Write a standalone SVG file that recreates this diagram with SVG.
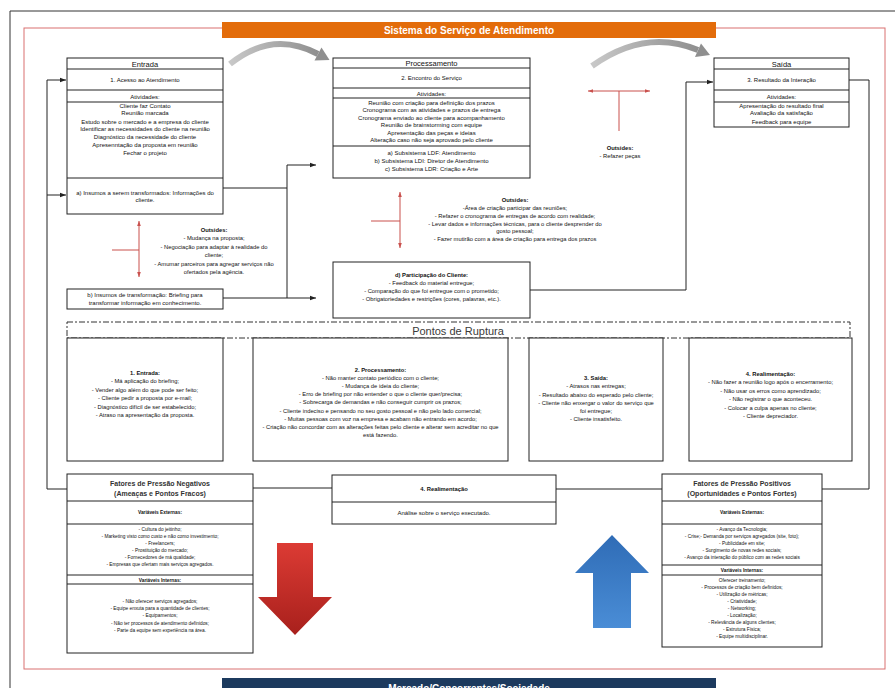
<svg xmlns="http://www.w3.org/2000/svg" width="895" height="688" viewBox="0 0 895 688">
<defs>
<style>
text{font-family:"Liberation Sans",Arial,sans-serif;fill:#111;text-anchor:middle}
.box{fill:#fff;stroke:#222;stroke-width:1}
.div{stroke:#222;stroke-width:1}
.h{font-size:7.5px}
.s{font-size:6px}
.xs{font-size:5.8px}
.xxs{font-size:4.8px}
.b{font-weight:bold}
.con{fill:none;stroke:#222;stroke-width:1}
.red{fill:none;stroke:#c9504d;stroke-width:1}
.dash{fill:none;stroke:#333;stroke-width:1;stroke-dasharray:6 2 2 2}
</style>
<marker id="ah" viewBox="0 0 6 6" refX="6" refY="3" markerWidth="6" markerHeight="6" orient="auto" markerUnits="userSpaceOnUse"><path d="M0,0.8 L6,3 L0,5.2z" fill="#222"/></marker>
<marker id="rh" viewBox="0 0 6 6" refX="6" refY="3" markerWidth="5" markerHeight="5" orient="auto-start-reverse" markerUnits="userSpaceOnUse"><path d="M0,0.8 L6,3 L0,5.2z" fill="#c9504d"/></marker>
<linearGradient id="gg" x1="0" y1="0" x2="1" y2="0"><stop offset="0" stop-color="#c8c8c8"/><stop offset="1" stop-color="#8f8f8f"/></linearGradient>
<linearGradient id="rg" x1="0" y1="0" x2="0" y2="1"><stop offset="0" stop-color="#dc3b34"/><stop offset="1" stop-color="#a8201c"/></linearGradient>
<linearGradient id="bg" x1="0" y1="0" x2="0" y2="1"><stop offset="0" stop-color="#2f6cb6"/><stop offset="1" stop-color="#4a8dd6"/></linearGradient>
</defs>
<rect width="895" height="688" fill="#fff"/>
<path d="M10,688 V11 H895" fill="none" stroke="#333" stroke-width="1"/>
<rect x="24" y="28" width="861" height="641" fill="none" stroke="#d97070" stroke-width="1"/>
<g id="title"><rect x="222" y="22" width="494" height="16" fill="#e36c0a"/><text x="469" y="34" style="font-size:10px;font-weight:bold;fill:#fff">Sistema do Serviço de Atendimento</text></g>
<g id="gray-arrows">
<path d="M230,64 Q272,30 318,54" fill="none" stroke="url(#gg)" stroke-width="6"/>
<polygon points="314.5,60.5 321.5,47.5 329.5,60" fill="#8f8f8f"/>
<path d="M592,66 Q645,28 698,50" fill="none" stroke="url(#gg)" stroke-width="6"/>
<polygon points="695,57 701,43.5 710,55" fill="#8f8f8f"/>
</g>
<g id="connectors">
<path class="con" d="M67,489 H47 V80 H66" marker-end="url(#ah)"/>
<path class="con" d="M47,195 H66" marker-end="url(#ah)"/>
<path class="con" d="M223,188 H287"/>
<path class="con" d="M287,298 V165 H316" marker-end="url(#ah)"/>
<path class="con" d="M223,298 H316" marker-end="url(#ah)"/>
<path class="con" d="M530,290 H686 V82 H713" marker-end="url(#ah)"/>
<path class="con" d="M849,80 H869 V489 H556"/>
<path class="con" d="M253,488 H332"/>
</g>
<g id="outsides-left">
<path class="red" d="M139,221 V277" marker-start="url(#rh)" marker-end="url(#rh)"/>
<path class="red" d="M112,250 H139"/>
<text class="xs b" x="214" y="232">Outsides:</text>
<text class="xs" x="214" y="240">- Mudança na proposta;</text>
<text class="xs" x="214" y="249">- Negociação para adaptar à realidade do</text>
<text class="xs" x="214" y="257">cliente;</text>
<text class="xs" x="214" y="266">- Amumar parceiros para agregar serviços não</text>
<text class="xs" x="214" y="274">ofertados pela agência.</text>
</g>
<g id="outsides-center">
<path class="red" d="M400,192 V248" marker-start="url(#rh)" marker-end="url(#rh)"/>
<path class="red" d="M371,221 H400"/>
<text class="xs b" x="515" y="202">Outsides:</text>
<text class="xs" x="515" y="210">-Área de criação participar das reuniões;</text>
<text class="xs" x="515" y="218">- Refazer o cronograma de entregas de acordo com realidade;</text>
<text class="xs" x="515" y="226">- Levar dados e informações técnicas, para o cliente desprender do</text>
<text class="xs" x="515" y="233">gosto pessoal;</text>
<text class="xs" x="515" y="241">- Fazer mutirão com a área de criação para entrega dos prazos</text>
</g>
<g id="outsides-right">
<path class="red" d="M588,91 H650" marker-start="url(#rh)" marker-end="url(#rh)"/>
<path class="red" d="M619,91 V131"/>
<text class="xs b" x="620" y="150">Outsides:</text>
<text class="xs" x="620" y="158">- Refazer peças</text>
</g>
<g id="entrada">
<rect class="box" x="67" y="58" width="156" height="156"/>
<path class="div" d="M67,69 H223 M67,90 H223 M67,102 H223 M67,178 H223"/>
<text class="h" x="145" y="66.5">Entrada</text>
<text class="s" x="145" y="82">1. Acesso ao Atendimento</text>
<text class="s" x="145" y="98.5">Atividades:</text>
<text class="s" x="145" y="108">Cliente faz Contato</text>
<text class="s" x="145" y="115">Reunião marcada</text>
<text class="s" x="145" y="123.5">Estudo sobre o mercado e a empresa do cliente</text>
<text class="s" x="145" y="131">Identificar as necessidades do cliente na reunião</text>
<text class="s" x="145" y="139">Diagnóstico da necessidade do cliente</text>
<text class="s" x="145" y="147">Apresenntação da proposta em reunião</text>
<text class="s" x="145" y="155">Fechar o projeto</text>
<text class="s" x="145" y="195">a) Insumos a serem transformados: Informações do</text>
<text class="s" x="145" y="202">cliente.</text>
</g>
<g id="insumos-b">
<rect class="box" x="67" y="289" width="156" height="20"/>
<text class="s" x="145" y="297">b) Insumos de transformação: Briefing para</text>
<text class="s" x="145" y="305">transformar informação em conhecimento.</text>
</g>
<g id="processamento">
<rect class="box" x="333" y="58" width="197" height="120"/>
<path class="div" d="M333,68 H530 M333,88 H530 M333,98 H530 M333,146 H530"/>
<text class="h" x="431.5" y="66">Processamento</text>
<text class="s" x="431.5" y="80">2. Encontro do Serviço</text>
<text class="s" x="431.5" y="95.5">Atividades:</text>
<text class="s" x="431.5" y="105">Reunião com criação para definição dos prazos</text>
<text class="s" x="431.5" y="112">Cronograma com as atividades e prazos de entrega</text>
<text class="s" x="431.5" y="119.5">Cronograma enviado ao cliente para acompanhamento</text>
<text class="s" x="431.5" y="127">Reunião de brainstorming com equipe</text>
<text class="s" x="431.5" y="134.5">Apresentação das peças e ideias</text>
<text class="s" x="431.5" y="142">Alteração caso não seja aprovado pelo cliente</text>
<text class="s" x="431.5" y="155">a) Subsistema LDF: Atendimento</text>
<text class="s" x="431.5" y="163">b) Subsistema LDI: Diretor de Atendimento</text>
<text class="s" x="431.5" y="171">c) Subsistema LDR: Criação e Arte</text>
</g>
<g id="participacao">
<rect class="box" x="333" y="262" width="197" height="56"/>
<text class="xs b" x="431.5" y="277">d) Participação do Cliente:</text>
<text class="xs" x="431.5" y="285">- Feedback do material entregue;</text>
<text class="xs" x="431.5" y="293">- Comparação do que foi entregue com o prometido;</text>
<text class="xs" x="431.5" y="301">- Obrigatoriedades e restrições (cores, palavras, etc.).</text>
</g>
<g id="saida">
<rect class="box" x="714" y="58" width="135" height="69"/>
<path class="div" d="M714,69 H849 M714,90 H849 M714,102 H849"/>
<text class="h" x="781.5" y="66.5">Saída</text>
<text class="s" x="781.5" y="82">3. Resultado da Interação</text>
<text class="s" x="781.5" y="98.5">Atividades:</text>
<text class="s" x="781.5" y="107.5">Apresentação do resultado final</text>
<text class="s" x="781.5" y="115">Avaliação da satisfação</text>
<text class="s" x="781.5" y="124">Feedback para equipe</text>
</g>
<g id="pontos-ruptura">
<rect class="dash" x="67" y="322" width="783" height="16"/>
<text x="458" y="335" style="font-size:11px;fill:#3a3a3a">Pontos de Ruptura</text>
</g>
<g id="ruptura-entrada">
<rect class="box" x="67" y="338" width="156" height="123"/>
<text class="xs b" x="145" y="375">1. Entrada:</text>
<text class="xs" x="145" y="383">- Má aplicação do briefing;</text>
<text class="xs" x="145" y="392">- Vender algo além do que pode ser feito;</text>
<text class="xs" x="145" y="400">- Cliente pedir a proposta por e-mail;</text>
<text class="xs" x="145" y="409">- Diagnóstico difícil de ser estabelecido;</text>
<text class="xs" x="145" y="417">- Atraso na apresentação da proposta.</text>
</g>
<g id="ruptura-processamento">
<rect class="box" x="253" y="338" width="255" height="123"/>
<text class="xs b" x="380.5" y="372">2. Processamento:</text>
<text class="xs" x="380.5" y="379.5">- Não manter contato periódico com o cliente;</text>
<text class="xs" x="380.5" y="387.5">- Mudança de ideia do cliente;</text>
<text class="xs" x="380.5" y="396">- Erro de briefing por não entender o que o cliente quer/precisa;</text>
<text class="xs" x="380.5" y="404">- Sobrecarga de demandas e não conseguir cumprir os prazos;</text>
<text class="xs" x="380.5" y="413">- Cliente indeciso e pensando no seu gosto pessoal e não pelo lado comercial;</text>
<text class="xs" x="380.5" y="421">- Muitas pessoas com voz na empresa e acabam não entrando em acordo;</text>
<text class="xs" x="380.5" y="429">- Criação não concordar com as alterações feitas pelo cliente e alterar sem acreditar no que</text>
<text class="xs" x="380.5" y="437">está fazendo.</text>
</g>
<g id="ruptura-saida">
<rect class="box" x="529" y="338" width="134" height="123"/>
<text class="xs b" x="596" y="380">3. Saída:</text>
<text class="xs" x="596" y="388">- Atrasos nas entregas;</text>
<text class="xs" x="596" y="397">- Resultado abaixo do esperado pelo cliente;</text>
<text class="xs" x="596" y="405">- Cliente não enxergar o valor do serviço que</text>
<text class="xs" x="596" y="413">foi entregue;</text>
<text class="xs" x="596" y="421">- Cliente insatisfeito.</text>
</g>
<g id="ruptura-realimentacao">
<rect class="box" x="689" y="338" width="163" height="123"/>
<text class="xs b" x="770.5" y="376">4. Realimentação:</text>
<text class="xs" x="770.5" y="384">- Não fazer a reunião logo após o encerramento;</text>
<text class="xs" x="770.5" y="393">- Não usar os erros como aprendizado;</text>
<text class="xs" x="770.5" y="401">- Não registrar o que aconteceu.</text>
<text class="xs" x="770.5" y="410">- Colocar a culpa apenas no cliente;</text>
<text class="xs" x="770.5" y="418">- Cliente depreciador.</text>
</g>
<g id="fatores-negativos">
<rect class="box" x="67" y="474" width="186" height="179"/>
<path class="div" d="M67,501 H253 M67,524 H253 M67,575 H253 M67,584 H253"/>
<text x="160" y="486" style="font-size:7px;font-weight:bold;fill:#333">Fatores de Pressão Negativos</text>
<text x="160" y="496" style="font-size:7px;font-weight:bold;fill:#333">(Ameaças e Pontos Fracos)</text>
<text class="xxs b" x="160" y="514">Variáveis Externas:</text>
<text class="xxs" x="160" y="531">- Cultura do jeitinho;</text>
<text class="xxs" x="160" y="538">- Marketing visto como custo e não como investimento;</text>
<text class="xxs" x="160" y="545">- Freelancers;</text>
<text class="xxs" x="160" y="552">- Prostituição do mercado;</text>
<text class="xxs" x="160" y="559">- Fornecedores de má qualidade;</text>
<text class="xxs" x="160" y="566">- Empresas que ofertam mais serviços agregados.</text>
<text class="xxs b" x="160" y="581.5">Variáveis Internas:</text>
<text class="xxs" x="160" y="603">- Não oferecer serviços agregados;</text>
<text class="xxs" x="160" y="610">- Equipe enxuta para a quantidade de clientes;</text>
<text class="xxs" x="160" y="617">- Equipamentos;</text>
<text class="xxs" x="160" y="625">- Não ter processos de atendimento definidos;</text>
<text class="xxs" x="160" y="632">- Parte da equipe sem experiência na área.</text>
</g>
<g id="realimentacao">
<rect class="box" x="332" y="475" width="224" height="49"/>
<path class="div" d="M332,502 H556"/>
<text class="xs b" x="444" y="491">4. Realimentação</text>
<text class="s" x="444" y="515">Análise sobre o serviço executado.</text>
</g>
<g id="fatores-positivos">
<rect class="box" x="662" y="474" width="160" height="173"/>
<path class="div" d="M662,501 H822 M662,524 H822 M662,565 H822 M662,575 H822"/>
<text x="742" y="486" style="font-size:7px;font-weight:bold;fill:#333">Fatores de Pressão Positivos</text>
<text x="742" y="496" style="font-size:7px;font-weight:bold;fill:#333">(Oportunidades e Pontos Fortes)</text>
<text class="xxs b" x="742" y="514">Variáveis Externas:</text>
<text class="xxs" x="742" y="531">- Avanço da Tecnologia;</text>
<text class="xxs" x="742" y="538">- Crise;- Demanda por serviços agregados (site, foto);</text>
<text class="xxs" x="742" y="545">- Publicidade em site;</text>
<text class="xxs" x="742" y="552">- Surgimento de novas redes sociais;</text>
<text class="xxs" x="742" y="559">- Avanço da interação do público com as redes sociais</text>
<text class="xxs b" x="742" y="571.5">Variáveis Internas:</text>
<text class="xxs" x="742" y="582">Oferecer treinamento;</text>
<text class="xxs" x="742" y="589">- Processos de criação bem definidos;</text>
<text class="xxs" x="742" y="596">- Utilização de métricas;</text>
<text class="xxs" x="742" y="603">- Criatividade;</text>
<text class="xxs" x="742" y="610">- Networking;</text>
<text class="xxs" x="742" y="617">- Localização;</text>
<text class="xxs" x="742" y="624">- Relevância de alguns clientes;</text>
<text class="xxs" x="742" y="631">- Estrutura Física;</text>
<text class="xxs" x="742" y="638">- Equipe multidisciplinar.</text>
</g>
<g id="arrow-down"><polygon points="277,543 313,543 313,597 332,597 295,635 258,597 277,597" fill="url(#rg)"/></g>
<g id="arrow-up"><polygon points="612,535 649,573 631,573 631,628 593,628 593,573 575,573" fill="url(#bg)"/></g>
<g id="mercado"><rect x="222" y="678" width="494" height="20" fill="#1c3a5e"/><text x="469" y="692" style="font-size:10px;font-weight:bold;fill:#fff">Mercado/Concorrentes/Sociedade</text></g>
</svg>
